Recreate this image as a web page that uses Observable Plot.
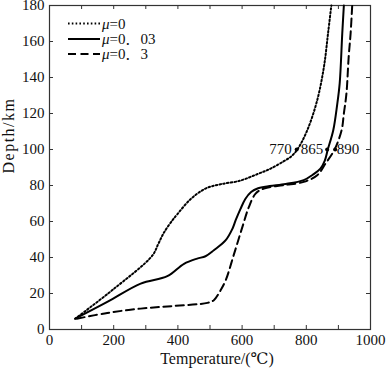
<!DOCTYPE html>
<html>
<head>
<meta charset="utf-8">
<script src="https://cdn.jsdelivr.net/npm/d3@7"></script>
<script src="https://cdn.jsdelivr.net/npm/@observablehq/plot@0.6"></script>
<style>
  html, body { margin: 0; padding: 0; background: #fff; }
  #chart svg, #chart svg text, #chart svg tspan {
    font-family: "Liberation Serif", "Times New Roman", Tinos, "DejaVu Serif", "Noto Serif CJK SC", "Noto Sans CJK SC", serif !important;
  }
</style>
</head>
<body>
<div id="chart"></div>
<script>
// Tick values
const xTicks = [0, 200, 400, 600, 800, 1000];
const xMinorTicks = [100, 300, 500, 700, 900];
const yTicks = [0, 20, 40, 60, 80, 100, 120, 140, 160, 180];

// Series names
const seriesNames = ["μ=0", "μ=0．03", "μ=0．3"];

// μ=0 (dotted)
const temp0  = [80, 200, 320, 340, 357, 383, 398, 440, 486, 533, 592, 650, 689, 730, 752, 772, 803, 834, 855, 868, 878];
const depth0 = [6, 22.5, 41, 48, 54, 60.7, 64, 72.5, 78.3, 80.7, 82.6, 86.5, 89.4, 93.5, 96, 100, 110.7, 127.4, 146, 165, 180];

// μ=0.03 (solid)
const temp1  = [80, 180, 284, 367, 419, 460, 486, 512, 549, 570, 580, 595, 610, 628, 650, 668, 730, 792, 820, 844, 858, 867, 884, 896, 904, 912, 917];
const depth1 = [6, 15.3, 25.5, 29.6, 36.5, 39.4, 40.7, 44, 49.6, 56, 60.7, 67, 72.5, 76.4, 78.5, 79.2, 80.7, 83, 86, 89.4, 94, 100, 110.7, 124.7, 136.7, 164.4, 180];

// μ=0.3 (dashed)
const temp2  = [85, 180, 284, 388, 492, 512, 533, 549, 575, 601, 621, 642, 668, 730, 792, 834, 860, 888, 910, 917, 925, 932, 938, 943];
const depth2 = [6, 9.2, 11.6, 13.1, 14.8, 16.3, 21.8, 27.4, 42, 57, 68, 75.5, 78.3, 80.2, 82, 85.7, 92.2, 100, 110.7, 120, 131, 151.4, 164.4, 180];

// Annotated values at 100 km
const annoTemps = [770, 865, 890];
const annoDepth = 100;

const toRows = (ts, ds) => ts.map((t, i) => ({t, d: ds[i]}));
const rows0 = toRows(temp0, depth0);
const rows1 = toRows(temp1, depth1);
const rows2 = toRows(temp2, depth2);
const annoRows = annoTemps.map(t => ({t, d: annoDepth, label: String(t)}));

const W = 388, H = 370;
const mL = 49, mR = 18, mT = 5, mB = 41;
const plotW = W - mL - mR, plotH = H - mT - mB;
const axisColor = "#333";
const dotted = "1.6,2.2";
const dashed = "8,4.5";

const plot = Plot.plot({
  width: W,
  height: H,
  marginLeft: mL,
  marginRight: mR,
  marginTop: mT,
  marginBottom: mB,
  style: { fontSize: "15px", background: "#fff", color: "#111" },
  x: { domain: [0, 1000] },
  y: { domain: [0, 180] },
  marks: [
    Plot.axisX(xTicks, { tickSize: 0, tickPadding: 5, label: null, fontSize: 15, tickFormat: d => String(d) }),
    Plot.axisY(yTicks, { tickSize: 0, tickPadding: 5, label: null, fontSize: 15, tickFormat: d => String(d) }),
    // inward ticks (bottom / top)
    Plot.tickX(xTicks.concat(xMinorTicks), { x: d => d, insetTop: plotH - 4, stroke: axisColor }),
    Plot.tickX(xTicks.concat(xMinorTicks), { x: d => d, insetBottom: plotH - 4, stroke: axisColor }),
    // inward ticks (left / right)
    Plot.tickY(yTicks, { y: d => d, insetRight: plotW - 4, stroke: axisColor }),
    Plot.tickY(yTicks, { y: d => d, insetLeft: plotW - 4, stroke: axisColor }),
    Plot.frame({ stroke: axisColor, strokeWidth: 1.2 }),
    Plot.line(rows0, { x: "t", y: "d", stroke: "#000", strokeWidth: 2, strokeDasharray: dotted, curve: "catmull-rom" }),
    Plot.line(rows1, { x: "t", y: "d", stroke: "#000", strokeWidth: 2, curve: "catmull-rom" }),
    Plot.line(rows2, { x: "t", y: "d", stroke: "#000", strokeWidth: 2, strokeDasharray: dashed, curve: "catmull-rom" }),
    Plot.dot(annoRows, { x: "t", y: "d", r: 2, fill: "#000", stroke: null }),
    Plot.text(annoRows.slice(0, 1), { x: "t", y: "d", text: "label", textAnchor: "end", dx: -5, fontSize: 15, fill: "#111" }),
    Plot.text(annoRows.slice(1, 2), { x: "t", y: "d", text: "label", textAnchor: "end", dx: -4, fontSize: 15, fill: "#111" }),
    Plot.text(annoRows.slice(2, 3), { x: "t", y: "d", text: "label", textAnchor: "start", dx: 1.5, fontSize: 15, fill: "#111" }),
    Plot.text(["Temperature/(℃)"], { frameAnchor: "bottom", dy: 34, dx: 7, fontSize: 16, fill: "#111" }),
    Plot.text(["Depth/km"], { frameAnchor: "left", rotate: -90, dx: -41, dy: 6, fontSize: 16, fill: "#111" })
  ]
});

document.getElementById("chart").appendChild(plot);

// Legend inside the plot area (top-left)
const svg = d3.select(plot);
const legend = svg.append("g").attr("transform", `translate(${mL + 19},${mT + 18.5})`);
const legendDash = [dotted, null, dashed];
const rowStep = [0, 15.5, 30.5];
seriesNames.forEach((name, i) => {
  const g = legend.append("g").attr("transform", `translate(0,${rowStep[i]})`);
  const ln = g.append("line").attr("x1", 0).attr("x2", 32).attr("y1", 0).attr("y2", 0)
    .attr("stroke", "#000").attr("stroke-width", 2);
  if (legendDash[i]) ln.attr("stroke-dasharray", legendDash[i]);
  const t = g.append("text").attr("x", 34).attr("y", 0).attr("dy", "0.35em")
    .attr("text-anchor", "start").attr("font-size", 15).attr("fill", "#111");
  t.append("tspan").attr("font-style", "italic").text(name.slice(0, 1));
  t.append("tspan").text(name.slice(1));
});

// Letter spacing on the depth title
svg.selectAll("text").filter(function() { return this.textContent === "Depth/km"; })
  .style("letter-spacing", "1.5px");
</script>
</body>
</html>
